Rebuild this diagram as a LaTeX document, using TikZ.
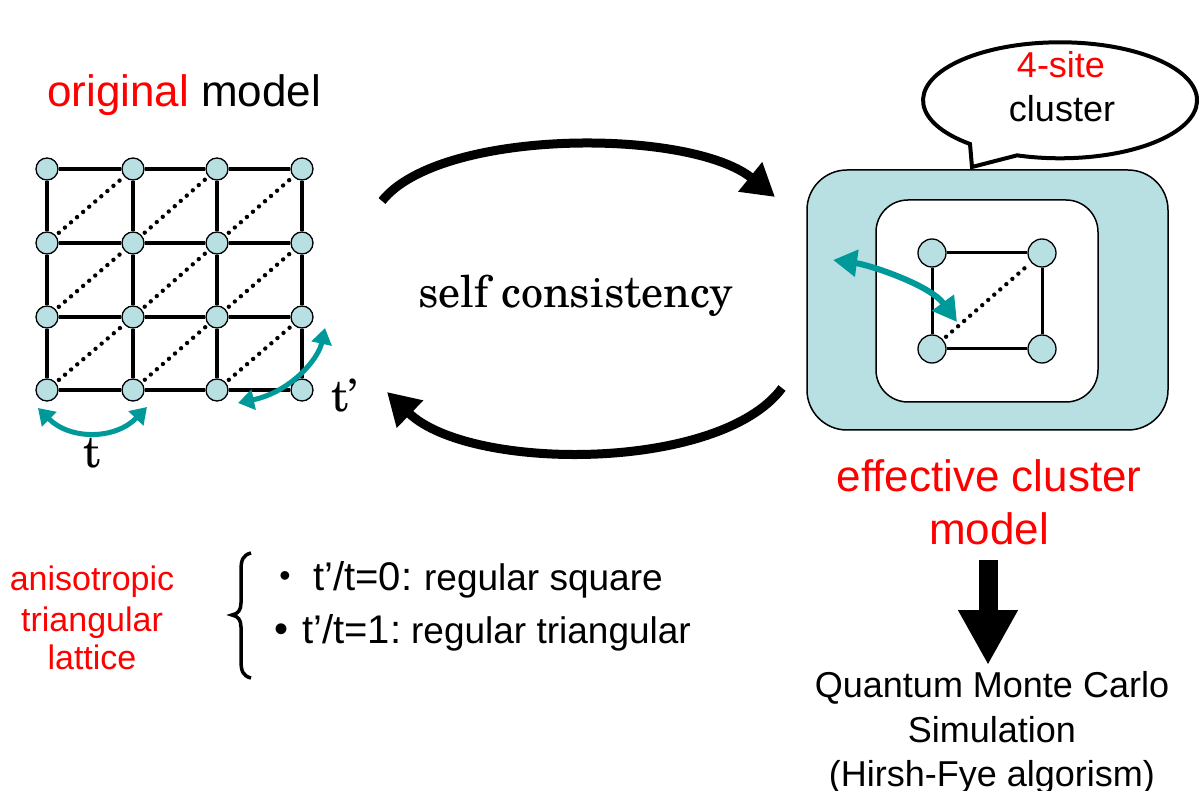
\documentclass[tikz,border=0pt]{standalone}
\usepackage{fontspec}
\newfontfamily\arial{Liberation Sans}
\newfontfamily\schola{texgyreschola-regular.otf}
\usetikzlibrary{arrows.meta,decorations.markings}
\definecolor{siteblue}{RGB}{184,224,227}
\definecolor{tealarr}{RGB}{0,153,153}
\definecolor{myred}{RGB}{255,0,0}
\begin{document}
\begin{tikzpicture}[x=1pt,y=-1pt,
  site/.style={circle,draw,line width=1.3pt,fill=siteblue,minimum size=22pt,inner sep=0pt},
  bigsite/.style={site,minimum size=28pt},
  bond/.style={line width=3.2pt},
  nnn/.style={decoration={markings,mark=between positions 4pt and -2pt step 8pt with {\fill (0,0) circle (2.2pt);}},postaction={decorate}},
  hop/.style={tealarr,line width=5pt,{Triangle[length=16pt,width=20pt]}-{Triangle[length=16pt,width=20pt]}},
  bighop/.style={tealarr,line width=6pt,{Triangle[length=24pt,width=26pt]}-{Triangle[length=24pt,width=26pt]}},
  loopar/.style={line width=9pt,-{Triangle[length=32pt,width=36pt]}},
  blockar/.style={line width=19pt,-{Triangle[length=55pt,width=56pt]}},
  sf/.style={font=\arial\fontsize{#1}{#1}\selectfont,inner sep=0pt},
  rm/.style={font=\schola\fontsize{#1}{#1}\selectfont,inner sep=0pt},
]
\useasboundingbox (0,0) rectangle (1203,791);

% ---------- original model ----------
\node[sf=44,anchor=base west] (orig) at (47,107) {\textcolor{myred}{original} model};

\foreach \i/\x in {0/47,1/133,2/217,3/302}
  \foreach \j/\y in {0/390,1/317,2/243,3/169}
    \node[site] (n\i\j) at (\x,\y) {};
\foreach \i/\k in {0/1,1/2,2/3}
  \foreach \j in {0,1,2,3} {
    \draw[bond] (n\i\j) -- (n\k\j);
    \draw[bond] (n\j\i) -- (n\j\k);
  }
\foreach \i/\k in {0/1,1/2,2/3}
  \foreach \j/\l in {0/1,1/2,2/3}
    \path[nnn] (n\i\j) -- (n\k\l);

\coordinate (ta) at (38,408);
\coordinate (tb) at (147,407);
\draw[hop] (ta) .. controls (70,440) and (115,440) .. (tb);
\coordinate (tpa) at (238,403);
\coordinate (tpb) at (325,328);
\draw[hop] (tpa) .. controls (290,392) and (318,360) .. (tpb);
\node[rm=44,anchor=base] (tlab) at (92,468) {t};
\node[rm=44,anchor=base west] (tplab) at (331,412) {t’};

% ---------- self consistency ----------
\coordinate (la) at (382,201);
\coordinate (lb) at (775,197);
\draw[loopar] (la) .. controls (440,128) and (690,128) .. (lb);
\coordinate (lc) at (782,388);
\coordinate (ld) at (387,392);
\draw[loopar] (lc) .. controls (720,472) and (470,472) .. (ld);
\node[rm=44,anchor=base] (sc) at (576,308) {self consistency};

% ---------- effective cluster ----------
\node[draw,line width=1.5pt,fill=siteblue,rounded corners=40pt,minimum width=361pt,minimum height=260pt] (outer) at (987.5,300) {};
\node[draw,line width=1.5pt,fill=white,rounded corners=32pt,minimum width=222pt,minimum height=202pt] (inner) at (987,301) {};
\node[bigsite] (c1) at (932,253) {};
\node[bigsite] (c2) at (1042,253) {};
\node[bigsite] (c3) at (932,349) {};
\node[bigsite] (c4) at (1042,349) {};
\draw[bond,line width=3pt] (c1) -- (c2);
\draw[bond,line width=3pt] (c2) -- (c4);
\draw[bond,line width=3pt] (c4) -- (c3);
\draw[bond,line width=3pt] (c3) -- (c1);
\path[nnn] (c3) -- (c2);
\coordinate (ca) at (833,260);
\coordinate (cb) at (957,322);
\draw[bighop] (ca) .. controls (870,265) and (930,285) .. (cb);

% speech bubble
\draw[line width=4pt,fill=white] (970,144) arc[start angle=131.1,end angle=468.3,x radius=137,y radius=58] -- (972,167) -- cycle;
\node[sf=36,anchor=base,text=myred] (four) at (1061,78) {4-site};
\node[sf=36,anchor=base] (clus) at (1062,122) {cluster};

\node[sf=44,anchor=base,text=myred] (eff1) at (989,492) {effective cluster};
\node[sf=44,anchor=base,text=myred] (eff2) at (989,544) {model};

\coordinate (dtop) at (988,560);
\coordinate (dtip) at (988,665);
\draw[blockar] (dtop) -- (dtip);

\node[sf=36,anchor=base] (q1) at (992,697) {Quantum Monte Carlo};
\node[sf=36,anchor=base] (q2) at (992,742) {Simulation};
\node[sf=36,anchor=base] (q3) at (992,786) {(Hirsh-Fye algorism)};

% ---------- bottom left ----------
\node[sf=34,anchor=base,text=myred] (an1) at (92,590) {anisotropic};
\node[sf=34,anchor=base,text=myred] (an2) at (92,631) {triangular};
\node[sf=34,anchor=base,text=myred] (an3) at (92,669) {lattice};

\draw[line width=3.5pt] (251,553) .. controls (243,555) and (241,560) .. (241,570) -- (241,603)
  .. controls (241,610) and (238,614) .. (232,615) .. controls (238,616) and (241,620) .. (241,627)
  -- (241,661) .. controls (241,671) and (243,676) .. (251,678);

\node[sf=32,anchor=base] (b1) at (285,586) {•};
\node[sf=40,anchor=base] (b2) at (281,642) {•};
\node[sf=40,anchor=base west] (l1) at (313,590) {t’/t=0:\hspace{12pt}\fontsize{37}{37}\selectfont regular square};
\node[sf=40,anchor=base west] (l2) at (302,643) {t’/t=1:\hspace{10pt}\fontsize{37}{37}\selectfont regular triangular};
\end{tikzpicture}
\end{document}
